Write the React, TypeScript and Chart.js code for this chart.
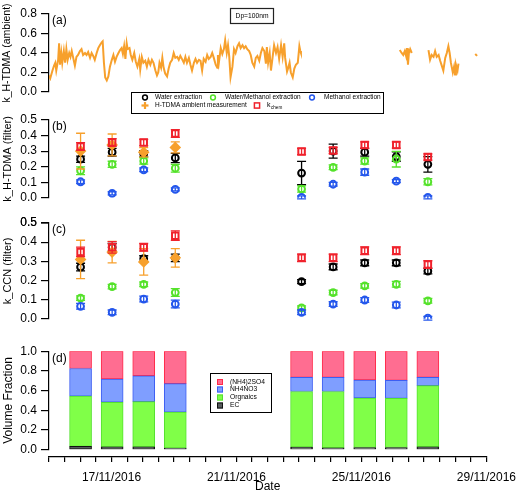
import React, { useEffect, useRef } from 'react';
import { Chart, registerables } from 'chart.js';

Chart.register(...registerables);

const FONT = "'Liberation Sans', Arial, Helvetica, sans-serif";
Chart.defaults.font.family = FONT;
Chart.defaults.color = '#000';

// ---------------- data ----------------
const axisStartDate = '15/11/2016';
const axisEndDate = '29/11/2016';
const dateTickLabels = ['17/11/2016', '21/11/2016', '25/11/2016', '29/11/2016'];

const sampleDates = [
  '16/11/2016', '17/11/2016', '18/11/2016', '19/11/2016',
  '23/11/2016', '24/11/2016', '25/11/2016', '26/11/2016', '27/11/2016',
];
const htdmaDates = ['16/11/2016', '17/11/2016', '18/11/2016', '19/11/2016'];

// y tick values of each panel
const ticksA = [0.0, 0.2, 0.4, 0.6, 0.8];
const ticksB = [0.0, 0.1, 0.2, 0.3, 0.4, 0.5];
const ticksC = [0.0, 0.1, 0.2, 0.3, 0.4, 0.5];
const ticksD = [0.0, 0.2, 0.4, 0.6, 0.8, 1.0];

// (a) ambient H-TDMA kappa; time in days since 15/11/2016 00:00, null = no data
const ambientDays = [
  0.00, 0.04, 0.11, 0.16, 0.20, 0.23, 0.29, 0.32, 0.35, 0.39,
  0.42, 0.47, 0.51, 0.55, 0.59, 0.64, 0.68, 0.72, 0.76, 0.82,
  0.87, 0.92, 0.98, 1.03, 1.08, 1.14, 1.19, 1.24, 1.30, 1.35,
  1.40, 1.45, 1.51, 1.56, 1.61, 1.67, 1.70, 1.74, 1.78, 1.83,
  1.88, 1.93, 1.99, 2.04, 2.09, 2.14, 2.20, 2.25, 2.30, 2.34,
  2.38, 2.42, 2.46, 2.49, 2.55, 2.59, 2.64, 2.70, 2.75, 2.80,
  2.86, 2.89, 2.94, 2.99, 3.05, 3.10, 3.15, 3.21, 3.26, 3.31,
  3.37, 3.42, 3.46, 3.50, 3.55, 3.59, 3.63, 3.68, 3.74, 3.79,
  3.84, 3.90, 3.95, 4.00, 4.06, 4.11, 4.16, 4.21, 4.27, 4.32,
  4.37, 4.43, 4.48, 4.53, 4.59, 4.64, 4.69, 4.75, 4.80, 4.85,
  4.90, 4.96, 5.01, 5.06, 5.12, 5.17, 5.22, 5.28, 5.33, 5.35,
  5.38, 5.44, 5.49, 5.54, 5.58, 5.63, 5.67, 5.71, 5.75, 5.81,
  5.86, 5.91, 5.97, 6.02, 6.07, 6.13, 6.18, 6.23, 6.28, 6.34,
  6.39, 6.44, 6.50, 6.55, 6.60, 6.66, 6.71, 6.76, 6.82, 6.87,
  6.90, 6.94, 6.99, 7.03, 7.08, 7.13, 7.19, 7.24, 7.29, 7.35,
  7.40, 7.45, 7.48, 7.54, 7.58, 7.62, 7.66, 7.72, 7.77, 7.82,
  7.88, 7.93, 7.96, 7.98,
  9.50,
  11.11, 11.17, 11.22, 11.27, 11.31, 11.34, 11.37, 11.40, 11.44, 11.49,
  11.75,
  12.02, 12.07, 12.12, 12.18, 12.23, 12.28, 12.34, 12.39, 12.44, 12.49,
  12.55, 12.60, 12.65, 12.69, 12.73, 12.76, 12.79, 12.83, 12.86, 12.89,
  12.94, 12.97,
  13.20,
  13.50, 13.56,
];
const ambientKappa = [
  0.17, 0.14, 0.22, 0.27, 0.30, 0.22, 0.33, 0.50, 0.28, 0.40,
  0.30, 0.42, 0.30, 0.44, 0.33, 0.40, 0.36, 0.42, 0.36, 0.27,
  0.36, 0.38, 0.42, 0.44, 0.38, 0.40, 0.38, 0.41, 0.35, 0.40,
  0.37, 0.33, 0.40, 0.45, 0.48, 0.51, 0.52, 0.30, 0.15, 0.12,
  0.16, 0.26, 0.33, 0.38, 0.31, 0.36, 0.40, 0.43, 0.45, 0.39,
  0.47, 0.34, 0.50, 0.44, 0.45, 0.38, 0.33, 0.40, 0.31, 0.26,
  0.34, 0.23, 0.36, 0.30, 0.32, 0.26, 0.33, 0.28, 0.33, 0.30,
  0.22, 0.17, 0.20, 0.30, 0.25, 0.35, 0.25, 0.19, 0.16, 0.24,
  0.30, 0.33, 0.40, 0.35, 0.36, 0.33, 0.37, 0.34, 0.30, 0.36,
  0.30, 0.35, 0.28, 0.22, 0.30, 0.34, 0.30, 0.33, 0.32, 0.22,
  0.34, 0.31, 0.38, 0.34, 0.36, 0.40, 0.35, 0.28, 0.25, 0.38,
  0.30, 0.45, 0.39, 0.44, 0.53, 0.40, 0.48, 0.36, 0.15, 0.26,
  0.44, 0.40, 0.47, 0.50, 0.45, 0.48, 0.45, 0.47, 0.44, 0.42,
  0.38, 0.30, 0.26, 0.35, 0.37, 0.32, 0.40, 0.45, 0.42, 0.29,
  0.46, 0.30, 0.40, 0.22, 0.35, 0.48, 0.40, 0.46, 0.34, 0.48,
  0.36, 0.50, 0.35, 0.21, 0.25, 0.30, 0.20, 0.15, 0.24, 0.28,
  0.30, 0.47, 0.42, 0.40,
  null,
  0.43, 0.40, 0.38, 0.42, 0.37, 0.45, 0.28, 0.40, 0.44, 0.40,
  null,
  0.43, 0.33, 0.38, 0.36, 0.42, 0.36, 0.38, 0.32, 0.27, 0.22,
  0.35, 0.40, 0.47, 0.40, 0.30, 0.25, 0.20, 0.26, 0.18, 0.28,
  0.22, 0.29,
  null,
  0.39, 0.37,
];

// (b) k_H-TDMA (filter)
const waterHT = [0.248, 0.293, 0.283, 0.256, 0.159, 0.300, 0.293, 0.265, 0.215];
const waterHTErr = [0.02, 0.025, 0.02, 0.03, 0.075, 0.045, 0.025, 0.03, 0.05];
const waterMethHT = [0.174, 0.215, 0.236, 0.190, 0.056, 0.196, 0.236, 0.248, 0.103];
const waterMethHTErr = [0.025, 0.02, 0.02, 0.025, 0.02, 0.015, 0.02, 0.05, 0.02];
const methHT = [0.103, 0.029, 0.180, 0.054, 0.003, 0.087, 0.165, 0.107, 0.003];
const methHTErr = [0.012, 0.01, 0.012, 0.01, 0.01, 0.012, 0.02, 0.01, 0.01];
const htdmaHT = [0.300, 0.340, 0.293, 0.324];
const htdmaHTErr = [0.115, 0.07, 0.03, 0.035];
const kchemHT = [0.330, 0.355, 0.355, 0.413, 0.298, 0.304, 0.339, 0.339, 0.262];
const kchemHTErr = [0.025, 0.025, 0.02, 0.025, 0.02, 0.02, 0.02, 0.02, 0.02];

// (c) k_CCN (filter)
const waterCCN = [0.270, 0.373, 0.314, 0.318, 0.194, 0.271, 0.292, 0.292, 0.249];
const waterCCNErr = [0.02, 0.02, 0.015, 0.02, 0.01, 0.015, 0.015, 0.015, 0.015];
const waterMethCCN = [0.108, 0.168, 0.180, 0.137, 0.057, 0.137, 0.172, 0.180, 0.094];
const waterMethCCNErr = [0.012, 0.012, 0.012, 0.02, 0.01, 0.012, 0.012, 0.015, 0.012];
const methCCN = [0.065, 0.034, 0.103, 0.077, 0.034, 0.077, 0.098, 0.072, 0.003];
const methCCNErr = [0.015, 0.012, 0.015, 0.02, 0.012, 0.012, 0.012, 0.015, 0.01];
const htdmaCCN = [0.310, 0.348, 0.297, 0.318];
const htdmaCCNErr = [0.10, 0.056, 0.069, 0.048];
const kchemCCN = [0.349, 0.373, 0.373, 0.434, 0.318, 0.318, 0.355, 0.355, 0.283];
const kchemCCNErr = [0.025, 0.03, 0.02, 0.025, 0.02, 0.02, 0.02, 0.02, 0.02];

// (d) volume fractions
const compositionLabels = ['EC', 'Orgnaics', 'NH4NO3', '(NH4)2SO4'];
const ecFrac = [0.035, 0.030, 0.030, 0.017, 0.027, 0.020, 0.023, 0.023, 0.030];
const orgFrac = [0.510, 0.452, 0.458, 0.365, 0.564, 0.571, 0.502, 0.499, 0.621];
const nitFrac = [0.280, 0.236, 0.263, 0.289, 0.143, 0.143, 0.183, 0.182, 0.083];
const sulfFrac = [0.175, 0.282, 0.249, 0.329, 0.266, 0.266, 0.292, 0.296, 0.266];

// ---------------- styles / helpers ----------------
const SERIES = {
  water: { label: 'Water extraction', color: '#000000', style: 'circle' },
  waterMeth: { label: 'Water/Methanol extraction', color: '#55e22b', style: 'circle' },
  meth: { label: 'Methanol extraction', color: '#2457ec', style: 'circle' },
  htdma: { label: 'H-TDMA ambient measurement', color: '#f7a02c', style: 'rectRot' },
  kchem: { label: 'k_chem', color: '#f0222c', style: 'rect' },
};
const ORANGE_LINE = '#f7a02c';
const COMP_FILL = ['#575d5d', '#80ff48', '#7f9eff', '#ff6d91'];
const COMP_BORDER = ['#111111', '#55e030', '#3d5ef2', '#ff2a4a'];

function parseDate(s: string) {
  const [d, m, y] = s.split('/').map(Number);
  return Date.UTC(y, m - 1, d);
}
function dayOffset(s: string) {
  return (parseDate(s) - parseDate(axisStartDate)) / 86400000;
}
const X_MAX = dayOffset(axisEndDate);
const sampleX = sampleDates.map(dayOffset);
const htdmaX = htdmaDates.map(dayOffset);
const labelDays = dateTickLabels.map(dayOffset);

const AXIS_W = 49;
const RIGHT_PAD = 33;

function xHidden(extra: any = {}) {
  return { type: 'linear', min: 0, max: X_MAX, display: false, offset: false, ...extra };
}

function yAxis(tickVals: number[], title: string, titleSize: number, extra: any = {}) {
  return {
    min: tickVals[0],
    max: tickVals[tickVals.length - 1],
    afterFit: (s: any) => { s.width = AXIS_W; },
    afterBuildTicks: (s: any) => { s.ticks = tickVals.map((v) => ({ value: v })); },
    border: { display: true, color: '#000', width: 1.2 },
    grid: { display: true, drawOnChartArea: false, drawTicks: true, tickLength: 8, color: '#000', lineWidth: 1.2 },
    ticks: {
      autoSkip: false,
      color: '#000',
      padding: 4,
      font: { family: FONT, size: 12 },
      callback: (v: any) => Number(v).toFixed(1),
    },
    title: {
      display: true,
      text: title,
      color: '#000',
      font: { family: FONT, size: titleSize },
      padding: { top: 1, bottom: 0 },
    },
    ...extra,
  };
}

const errorBars = {
  id: 'errorBars',
  afterDatasetDraw(chart: any, args: any) {
    const ds = chart.data.datasets[args.index];
    const errs = ds.errors;
    if (!errs) return;
    const ys = chart.scales.y;
    const ctx = chart.ctx;
    ctx.save();
    ctx.strokeStyle = ds.pointBorderColor;
    ctx.lineWidth = 1.3;
    args.meta.data.forEach((pt: any, i: number) => {
      const v = ds.data[i].y;
      const e = errs[i];
      if (v == null || e == null) return;
      const x = pt.x;
      const y1 = ys.getPixelForValue(v + e);
      const y2 = ys.getPixelForValue(v - e);
      ctx.beginPath();
      ctx.moveTo(x, y1); ctx.lineTo(x, y2);
      ctx.moveTo(x - 4.5, y1); ctx.lineTo(x + 4.5, y1);
      ctx.moveTo(x - 4.5, y2); ctx.lineTo(x + 4.5, y2);
      ctx.stroke();
    });
    ctx.restore();
  },
};

// re-draws the top tick of a y axis through the scale
const topTickFix = {
  id: 'topTickFix',
  afterDraw(chart: any) {
    const s = chart.scales.y;
    const ctx = chart.ctx;
    const v = s.max;
    const y = s.getPixelForValue(v);
    ctx.save();
    ctx.strokeStyle = '#000';
    ctx.lineWidth = 1.2;
    ctx.beginPath();
    ctx.moveTo(s.right - 8, y);
    ctx.lineTo(s.right, y);
    ctx.stroke();
    ctx.fillStyle = '#000';
    ctx.font = `12px ${FONT}`;
    ctx.textAlign = 'right';
    ctx.textBaseline = 'middle';
    ctx.fillText(Number(v).toFixed(1), s.right - 12, y);
    ctx.restore();
  },
};

function panelLabel(text: string) {
  return {
    id: 'panelLabel',
    afterDraw(chart: any) {
      const { ctx, chartArea } = chart;
      ctx.save();
      ctx.font = `12px ${FONT}`;
      ctx.fillStyle = '#000';
      ctx.textBaseline = 'middle';
      ctx.textAlign = 'left';
      ctx.fillText(text, chartArea.left + 3, chartArea.top + 7);
      ctx.restore();
    },
  };
}

function drawMarker(ctx: any, style: string, x: number, y: number, color: string) {
  ctx.save();
  ctx.strokeStyle = color;
  ctx.fillStyle = color;
  ctx.lineWidth = 1.5;
  if (style === 'circle') {
    ctx.beginPath();
    ctx.arc(x, y, 2.4, 0, Math.PI * 2);
    ctx.stroke();
  } else if (style === 'rect') {
    ctx.strokeRect(x - 2.6, y - 2.6, 5.2, 5.2);
  } else {
    ctx.fillRect(x - 3.5, y - 1.1, 7, 2.2);
    ctx.fillRect(x - 1.1, y - 3.5, 2.2, 7);
  }
  ctx.restore();
}

// Dp box + legend of panels (b)/(c), drawn on the top canvas
const topDecor = {
  id: 'topDecor',
  afterDraw(chart: any) {
    const ctx = chart.ctx;
    ctx.save();
    ctx.strokeStyle = '#222';
    ctx.lineWidth = 1.2;
    ctx.strokeRect(230.5, 8.5, 43, 15);
    ctx.fillStyle = '#000';
    ctx.font = `6.7px ${FONT}`;
    ctx.textAlign = 'center';
    ctx.textBaseline = 'middle';
    ctx.fillText('Dp=100nm', 252, 16);

    ctx.lineWidth = 1;
    ctx.strokeStyle = '#000';
    ctx.strokeRect(131.5, 92.5, 252, 21);
    ctx.textAlign = 'left';
    ctx.font = `6.5px ${FONT}`;
    const r1 = 97.5;
    const r2 = 105.5;
    const items = [
      { s: SERIES.water, x: 145, y: r1, tx: 155 },
      { s: SERIES.waterMeth, x: 213, y: r1, tx: 225 },
      { s: SERIES.meth, x: 312, y: r1, tx: 324 },
      { s: SERIES.htdma, x: 145, y: r2, tx: 155 },
      { s: SERIES.kchem, x: 257, y: r2, tx: 267 },
    ];
    items.forEach((it) => {
      drawMarker(ctx, it.s.style, it.x, it.y, it.s.color);
      ctx.fillStyle = '#000';
      if (it.s.label === 'k_chem') {
        ctx.font = `7px ${FONT}`;
        ctx.fillText('k', it.tx, it.y - 0.5);
        ctx.font = `4.6px ${FONT}`;
        ctx.fillText('chem', it.tx + 4, it.y + 2.2);
        ctx.font = `6.5px ${FONT}`;
      } else {
        ctx.fillText(it.s.label, it.tx, it.y);
      }
    });
    ctx.restore();
  },
};

const compLegend = {
  id: 'compLegend',
  afterDraw(chart: any) {
    const ctx = chart.ctx;
    ctx.save();
    ctx.strokeStyle = '#000';
    ctx.lineWidth = 1;
    ctx.strokeRect(210.5, 373.5 - 340, 61, 39);
    ctx.font = `6.7px ${FONT}`;
    ctx.textBaseline = 'middle';
    ctx.textAlign = 'left';
    const rows = [382, 389.5, 397.5, 405.5];
    const dss = chart.data.datasets.slice().reverse();
    dss.forEach((ds: any, i: number) => {
      const y = rows[i] - 340;
      ctx.fillStyle = ds.backgroundColor;
      ctx.fillRect(217, y - 3, 6, 6);
      ctx.strokeStyle = ds.borderColor;
      ctx.strokeRect(217.5, y - 2.5, 5, 5);
      ctx.fillStyle = '#000';
      ctx.fillText(ds.label, 230, y);
    });
    ctx.restore();
  },
};

function scatterSet(spec: any, xs: number[], ys: number[], errs: number[], order: number) {
  const radius = spec.style === 'rect' ? 4.6 : spec.style === 'rectRot' ? 4.4 : 3.4;
  return {
    label: spec.label,
    data: xs.map((x, i) => ({ x, y: ys[i] })),
    errors: errs,
    order,
    showLine: false,
    pointStyle: spec.style,
    pointRadius: radius,
    pointHoverRadius: radius,
    pointBorderWidth: 2,
    borderColor: spec.color,
    pointBorderColor: spec.color,
    pointBackgroundColor: spec.style === 'rectRot' ? spec.color : 'rgba(0,0,0,0)',
    backgroundColor: spec.style === 'rectRot' ? spec.color : 'rgba(0,0,0,0)',
  };
}

function baseOptions(padding: any) {
  return {
    animation: false,
    responsive: false,
    events: [],
    layout: { padding },
    plugins: { legend: { display: false }, tooltip: { enabled: false } },
  };
}

// ---------------- chart configs ----------------
function buildA() {
  return {
    type: 'line',
    data: {
      datasets: [
        {
          label: 'k_H-TDMA (ambient)',
          data: ambientDays.map((x, i) => ({ x, y: ambientKappa[i] })),
          borderColor: ORANGE_LINE,
          borderWidth: 2,
          pointRadius: 0,
          tension: 0,
          spanGaps: false,
        },
      ],
    },
    options: {
      ...baseOptions({ top: 14, bottom: 26, left: 0, right: RIGHT_PAD }),
      scales: {
        x: xHidden(),
        y: yAxis(ticksA, 'k_H-TDMA (ambient)', 10.5),
      },
    },
    plugins: [panelLabel('(a)'), topDecor],
  };
}

function buildScatter(label: string, title: string, tickVals: number[], pad: any, sets: any[], extraPlugins: any[]) {
  return {
    type: 'scatter',
    data: { datasets: sets },
    options: {
      ...baseOptions({ ...pad, left: 0, right: RIGHT_PAD }),
      scales: {
        x: xHidden(),
        y: yAxis(tickVals, title, 11),
      },
    },
    plugins: [errorBars, panelLabel(label), ...extraPlugins],
  };
}

function buildB() {
  return buildScatter('(b)', 'k_H-TDMA (filter)', ticksB, { top: 12, bottom: 8 }, [
    scatterSet(SERIES.kchem, sampleX, kchemHT, kchemHTErr, 0),
    scatterSet(SERIES.htdma, htdmaX, htdmaHT, htdmaHTErr, 1),
    scatterSet(SERIES.meth, sampleX, methHT, methHTErr, 2),
    scatterSet(SERIES.waterMeth, sampleX, waterMethHT, waterMethHTErr, 3),
    scatterSet(SERIES.water, sampleX, waterHT, waterHTErr, 4),
  ], []);
}

function buildC() {
  return buildScatter('(c)', 'k_CCN (filter)', ticksC, { top: 13, bottom: 10 }, [
    scatterSet(SERIES.kchem, sampleX, kchemCCN, kchemCCNErr, 0),
    scatterSet(SERIES.htdma, htdmaX, htdmaCCN, htdmaCCNErr, 1),
    scatterSet(SERIES.meth, sampleX, methCCN, methCCNErr, 2),
    scatterSet(SERIES.waterMeth, sampleX, waterMethCCN, waterMethCCNErr, 3),
    scatterSet(SERIES.water, sampleX, waterCCN, waterCCNErr, 4),
  ], [topTickFix]);
}

function buildD() {
  const fr = [ecFrac, orgFrac, nitFrac, sulfFrac];
  return {
    type: 'bar',
    data: {
      datasets: compositionLabels.map((label, k) => ({
        label,
        data: sampleX.map((x, i) => ({ x, y: fr[k][i] })),
        backgroundColor: COMP_FILL[k],
        borderColor: COMP_BORDER[k],
        borderWidth: 1,
        borderSkipped: false,
        barThickness: 22,
      })),
    },
    options: {
      ...baseOptions({ top: 11, bottom: 10, left: 0, right: RIGHT_PAD }),
      scales: {
        x: xHidden({ stacked: true }),
        y: yAxis(ticksD, 'Volume Fraction', 12, { stacked: true }),
      },
    },
    plugins: [panelLabel('(d)'), compLegend],
  };
}

function buildX() {
  return {
    type: 'scatter',
    data: { datasets: [] },
    options: {
      ...baseOptions({ top: 2, bottom: 0, left: AXIS_W, right: RIGHT_PAD }),
      scales: {
        x: {
          type: 'linear',
          min: 0,
          max: X_MAX,
          offset: false,
          position: 'bottom',
          afterFit: (s: any) => { s.height = 38; },
          border: { display: true, color: '#000', width: 1.2 },
          grid: { display: true, drawOnChartArea: false, drawTicks: true, tickLength: 5, color: '#000', lineWidth: 1.2 },
          ticks: {
            stepSize: 0.5,
            autoSkip: false,
            maxRotation: 0,
            minRotation: 0,
            padding: 8,
            color: '#000',
            font: { family: FONT, size: 12 },
            callback: (v: any) => {
              const i = labelDays.findIndex((d) => Math.abs(d - Number(v)) < 1e-6);
              return i >= 0 ? dateTickLabels[i] : '';
            },
          },
          title: {
            display: true,
            text: 'Date',
            color: '#000',
            font: { family: FONT, size: 12 },
            padding: { top: 0, bottom: 1 },
          },
        },
        y: { display: false, min: 0, max: 1 },
      },
    },
  };
}

function ChartCanvas({ top, height, build, z }: { top: number; height: number; build: () => any; z: number }) {
  const ref = useRef<HTMLCanvasElement | null>(null);
  useEffect(() => {
    if (!ref.current) return;
    const chart = new Chart(ref.current, build());
    return () => chart.destroy();
  }, []);
  return (
    <canvas
      ref={ref}
      width={524}
      height={height}
      style={{ position: 'absolute', left: 0, top, zIndex: z }}
    />
  );
}

export default function App() {
  return (
    <div style={{ position: 'absolute', left: 0, top: 0, width: 524, height: 495, background: '#fff' }}>
      <ChartCanvas top={0} height={118} build={buildA} z={1} />
      <ChartCanvas top={108} height={101} build={buildB} z={2} />
      <ChartCanvas top={210} height={120} build={buildC} z={3} />
      <ChartCanvas top={340} height={121} build={buildD} z={4} />
      <ChartCanvas top={445} height={50} build={buildX} z={5} />
    </div>
  );
}
